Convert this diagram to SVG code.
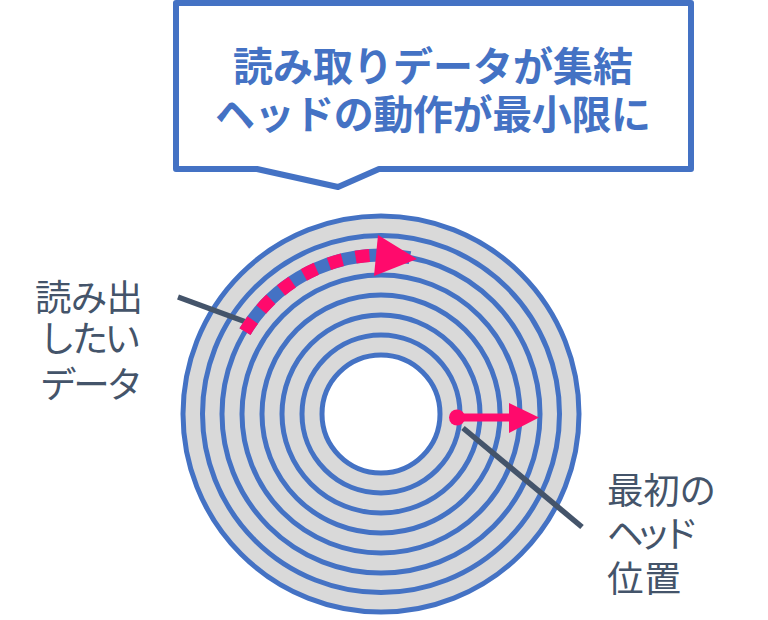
<svg xmlns="http://www.w3.org/2000/svg" width="768" height="620" viewBox="0 0 768 620">
<style>
.ring{fill:none;stroke:#4472c4;stroke-width:5}
.leader{fill:none;stroke:#44546a;stroke-width:5.500}
.pink{fill:#ff0a6c}
.t{font-family:"Noto Sans CJK JP",sans-serif;font-size:36.500px;fill:#44546a}
.h{font-family:"Noto Sans CJK JP",sans-serif;font-size:40px;font-weight:700;fill:#4472c4}
</style>
<rect width="768" height="620" fill="#fff"/>
<g id="disk">
<circle cx="381" cy="414" r="199" fill="#d9d9d9"/>
<circle cx="381" cy="414" r="59" fill="#fff"/>
<circle class="ring" cx="381" cy="414" r="198"/>
<circle class="ring" cx="381" cy="414" r="178.500"/>
<circle class="ring" cx="381" cy="414" r="159"/>
<circle class="ring" cx="381" cy="414" r="139"/>
<circle class="ring" cx="381" cy="414" r="119"/>
<circle class="ring" cx="381" cy="414" r="99"/>
<circle class="ring" cx="381" cy="414" r="79"/>
<circle class="ring" cx="381" cy="414" r="59"/>
</g>
<g id="connectors">
<path class="leader" d="M178 297L246 322"/>
<path class="leader" d="M463 428L582 527"/>
<path d="M245 331.600A159 159 0 0 1 410 257.700" fill="none" stroke="#4472c4" stroke-width="13"/>
<path d="M245 331.600A159 159 0 0 1 372 255.300" fill="none" stroke="#ff0a6c" stroke-width="13" stroke-dasharray="14 13.500"/>
<path class="pink" d="M378 235L417 259L374 276Z"/>
<path d="M457 417.500H512" fill="none" stroke="#ff0a6c" stroke-width="8"/>
<circle class="pink" cx="457" cy="417.500" r="8"/>
<path class="pink" d="M509 403L539 417.500L509 433Z"/>
</g>
<g id="callout">
<path d="M176 3H691V169H379L338 187L257 169H176Z" fill="#fff" stroke="#4472c4" stroke-width="6" stroke-linejoin="round"/>
<text class="h" x="233" y="81" textLength="400">読み取りデータが集結</text>
<text class="h" x="215" y="129" textLength="436">ヘッドの動作が最小限に</text>
</g>
<g id="label-read">
<text class="t" x="35" y="311" textLength="108">読み出</text>
<text class="t" x="39" y="352" textLength="102">したい</text>
<text class="t" x="40" y="398" textLength="103">データ</text>
</g>
<g id="label-head">
<text class="t" x="607" y="504" textLength="109">最初の</text>
<text class="t" x="607" y="547" textLength="92">ヘッド</text>
<text class="t" x="607" y="592" textLength="74">位置</text>
</g>
</svg>
